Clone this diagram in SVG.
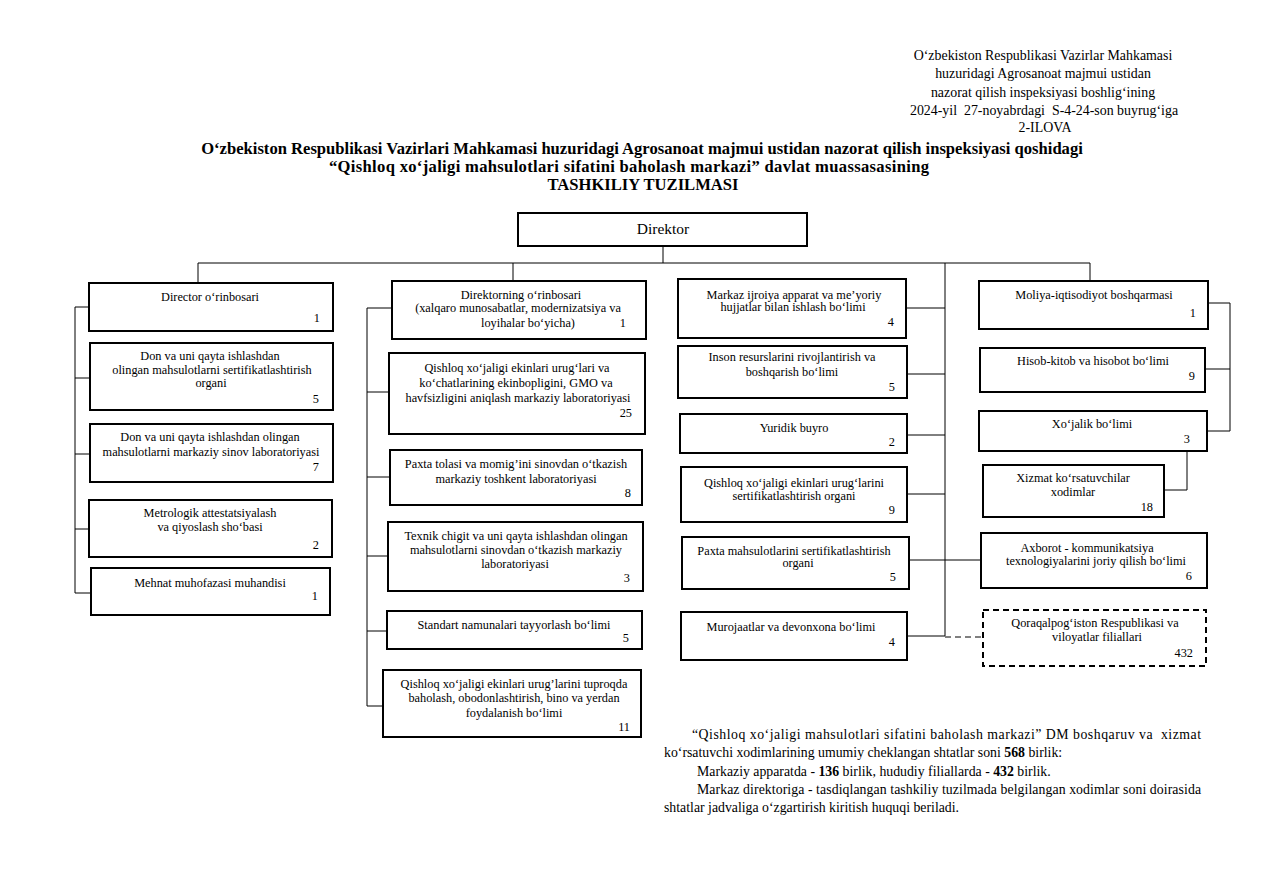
<svg xmlns="http://www.w3.org/2000/svg" width="1273" height="885" viewBox="0 0 1273 885">
<style>
text{font-family:"Liberation Serif","Times New Roman",serif;fill:#000}
.b rect{fill:#fff;stroke:#000;stroke-width:2}
.b text{font-size:12.3px}
#director text{font-size:15.5px}
.c{text-anchor:middle}
.n{text-anchor:end}
.hd{font-size:13.9px;text-anchor:middle}
.tt{font-size:16.6px;font-weight:bold;text-anchor:middle}
.ft{font-size:13.8px}
#conn line,#conn polyline{stroke:#000;stroke-width:1;fill:none}
.dash{stroke-dasharray:6 4}
</style>
<rect width="1273" height="885" fill="#fff"/>
<g id="header">
<text class="hd" x="1043" y="60">O‘zbekiston Respublikasi Vazirlar Mahkamasi</text>
<text class="hd" x="1043" y="78">huzuridagi Agrosanoat majmui ustidan</text>
<text class="hd" x="1043" y="97">nazorat qilish inspeksiyasi boshlig‘ining</text>
<text class="hd" x="1044" y="115" xml:space="preserve">2024-yil  27-noyabrdagi  S-4-24-son buyrug‘iga</text>
<text class="hd" x="1045" y="132">2-ILOVA</text>
</g>
<g id="title">
<text class="tt" x="642" y="154">O‘zbekiston Respublikasi Vazirlari Mahkamasi huzuridagi Agrosanoat majmui ustidan nazorat qilish inspeksiyasi qoshidagi</text>
<text class="tt" x="629" y="172" textLength="600" lengthAdjust="spacing">“Qishloq xo‘jaligi mahsulotlari sifatini baholash markazi” davlat muassasasining</text>
<text class="tt" x="643" y="190">TASHKILIY TUZILMASI</text>
</g>
<g id="conn">
<line x1="663" y1="246" x2="663" y2="263"/>
<line x1="198" y1="263" x2="1090" y2="263"/>
<line x1="198" y1="263" x2="198" y2="283"/>
<line x1="513" y1="263" x2="513" y2="281"/>
<line x1="945" y1="263" x2="945" y2="636"/>
<line x1="1090" y1="263" x2="1090" y2="281"/>
<line x1="75" y1="307" x2="75" y2="593"/>
<line x1="75" y1="307" x2="89" y2="307"/>
<line x1="75" y1="378" x2="90" y2="378"/>
<line x1="75" y1="454" x2="90" y2="454"/>
<line x1="75" y1="529" x2="90" y2="529"/>
<line x1="75" y1="593" x2="91" y2="593"/>
<line x1="367" y1="308" x2="367" y2="706"/>
<line x1="367" y1="308" x2="392" y2="308"/>
<line x1="367" y1="392" x2="389" y2="392"/>
<line x1="367" y1="477" x2="390" y2="477"/>
<line x1="367" y1="556" x2="388" y2="556"/>
<line x1="367" y1="631" x2="387" y2="631"/>
<line x1="367" y1="706" x2="383" y2="706"/>
<line x1="906" y1="308" x2="945" y2="308"/>
<line x1="907" y1="374" x2="945" y2="374"/>
<line x1="907" y1="435" x2="945" y2="435"/>
<line x1="907" y1="494" x2="945" y2="494"/>
<line x1="909" y1="560" x2="981" y2="560"/>
<line x1="907" y1="636" x2="945" y2="636"/>
<line class="dash" x1="945" y1="637" x2="983" y2="637"/>
<line x1="1230" y1="303" x2="1230" y2="431"/>
<line x1="1208" y1="303" x2="1230" y2="303"/>
<line x1="1205" y1="369" x2="1230" y2="369"/>
<line x1="1207" y1="431" x2="1230" y2="431"/>
<polyline points="1187,451 1187,490 1164,490"/>
</g>
<g id="director" class="b"><rect x="518" y="213" width="289" height="33"/><text class="c" x="663" y="234">Direktor</text></g>
<g id="c1n1" class="b"><rect x="89" y="283" width="244" height="48"/><text class="c" x="210" y="301">Director o‘rinbosari</text><text class="n" x="320" y="322">1</text></g>
<g id="c1n2" class="b"><rect x="90" y="343" width="243" height="67"/><text class="c" x="210" y="360">Don va uni qayta ishlashdan</text><text class="c" x="212" y="374">olingan mahsulotlarni sertifikatlashtirish</text><text class="c" x="211" y="387">organi</text><text class="n" x="319" y="403">5</text></g>
<g id="c1n3" class="b"><rect x="90" y="424" width="243" height="58"/><text class="c" x="210" y="441">Don va uni qayta ishlashdan olingan</text><text class="c" x="211" y="456">mahsulotlarni markaziy sinov laboratoriyasi</text><text class="n" x="319" y="471">7</text></g>
<g id="c1n4" class="b"><rect x="89" y="500" width="243" height="57"/><text class="c" x="210" y="517">Metrologik attestatsiyalash</text><text class="c" x="210" y="531">va qiyoslash sho‘basi</text><text class="n" x="319" y="549">2</text></g>
<g id="c1n5" class="b"><rect x="91" y="568" width="239" height="47"/><text class="c" x="210" y="587">Mehnat muhofazasi muhandisi</text><text class="n" x="318" y="600">1</text></g>
<g id="c2n1" class="b"><rect x="392" y="281" width="254" height="58"/><text class="c" x="521" y="299">Direktorning o‘rinbosari</text><text class="c" x="518" y="312">(xalqaro munosabatlar, modernizatsiya va</text><text class="c" x="528" y="327">loyihalar bo‘yicha)</text><text class="n" x="626" y="327">1</text></g>
<g id="c2n2" class="b"><rect x="389" y="353" width="256" height="81"/><text class="c" x="517" y="372">Qishloq xo‘jaligi ekinlari urug‘lari va</text><text class="c" x="516" y="387">ko‘chatlarining ekinbopligini, GMO va</text><text class="c" x="518" y="402">havfsizligini aniqlash markaziy laboratoriyasi</text><text class="n" x="632" y="417">25</text></g>
<g id="c2n3" class="b"><rect x="390" y="450" width="252" height="55"/><text class="c" x="516" y="468">Paxta tolasi va momig’ini sinovdan o‘tkazish</text><text class="c" x="516" y="483">markaziy toshkent laboratoriyasi</text><text class="n" x="631" y="497">8</text></g>
<g id="c2n4" class="b"><rect x="388" y="522" width="255" height="69"/><text class="c" x="516" y="540">Texnik chigit va uni qayta ishlashdan olingan</text><text class="c" x="516" y="554">mahsulotlarni sinovdan o‘tkazish markaziy</text><text class="c" x="515" y="568">laboratoriyasi</text><text class="n" x="630" y="582">3</text></g>
<g id="c2n5" class="b"><rect x="387" y="611" width="255" height="38"/><text class="c" x="514" y="629">Standart namunalari tayyorlash bo‘limi</text><text class="n" x="629" y="642">5</text></g>
<g id="c2n6" class="b"><rect x="383" y="670" width="258" height="67"/><text class="c" x="514" y="688">Qishloq xo‘jaligi ekinlari urug’larini tuproqda</text><text class="c" x="514" y="702">baholash, obodonlashtirish, bino va yerdan</text><text class="c" x="514" y="717">foydalanish bo‘limi</text><text class="n" x="630" y="731">11</text></g>
<g id="c3n1" class="b"><rect x="678" y="279" width="228" height="59"/><text class="c" x="794" y="299">Markaz ijroiya apparat va me’yoriy</text><text class="c" x="793" y="311">hujjatlar bilan ishlash bo‘limi</text><text class="n" x="894" y="326">4</text></g>
<g id="c3n2" class="b"><rect x="678" y="346" width="229" height="52"/><text class="c" x="792" y="361">Inson resurslarini rivojlantirish va</text><text class="c" x="792" y="376">boshqarish bo‘limi</text><text class="n" x="895" y="391">5</text></g>
<g id="c3n3" class="b"><rect x="680" y="414" width="227" height="39"/><text class="c" x="794" y="432">Yuridik buyro</text><text class="n" x="895" y="446">2</text></g>
<g id="c3n4" class="b"><rect x="681" y="467" width="226" height="55"/><text class="c" x="794" y="487">Qishloq xo‘jaligi ekinlari urug‘larini</text><text class="c" x="794" y="500">sertifikatlashtirish organi</text><text class="n" x="895" y="514">9</text></g>
<g id="c3n5" class="b"><rect x="682" y="537" width="227" height="52"/><text class="c" x="794" y="555">Paxta mahsulotlarini sertifikatlashtirish</text><text class="c" x="798" y="567">organi</text><text class="n" x="896" y="581">5</text></g>
<g id="c3n6" class="b"><rect x="681" y="612" width="226" height="48"/><text class="c" x="791" y="631">Murojaatlar va devonxona bo‘limi</text><text class="n" x="895" y="646">4</text></g>
<g id="c4n1" class="b"><rect x="979" y="281" width="229" height="48"/><text class="c" x="1094" y="299">Moliya-iqtisodiyot boshqarmasi</text><text class="n" x="1196" y="317">1</text></g>
<g id="c4n2" class="b"><rect x="980" y="348" width="225" height="44"/><text class="c" x="1093" y="365">Hisob-kitob va hisobot bo‘limi</text><text class="n" x="1195" y="380">9</text></g>
<g id="c4n3" class="b"><rect x="979" y="411" width="228" height="40"/><text class="c" x="1092" y="428">Xo‘jalik bo‘limi</text><text class="n" x="1190" y="443">3</text></g>
<g id="c4n4" class="b"><rect x="983" y="465" width="181" height="52"/><text class="c" x="1073" y="482">Xizmat ko‘rsatuvchilar</text><text class="c" x="1073" y="496">xodimlar</text><text class="n" x="1153" y="511">18</text></g>
<g id="c4n5" class="b"><rect x="981" y="533" width="226" height="55"/><text class="c" x="1087" y="552">Axborot - kommunikatsiya</text><text class="c" x="1096" y="565">texnologiyalarini joriy qilish bo‘limi</text><text class="n" x="1192" y="580">6</text></g>
<g id="c4n6" class="b"><rect class="dash" x="983" y="610" width="223" height="56"/><text class="c" x="1095" y="627">Qoraqalpog‘iston Respublikasi va</text><text class="c" x="1097" y="641">viloyatlar filiallari</text><text class="n" x="1193" y="657">432</text></g>
<g id="footer">
<text class="ft" x="692" y="739" textLength="509" lengthAdjust="spacing" xml:space="preserve">“Qishloq xo‘jaligi mahsulotlari sifatini baholash markazi” DM boshqaruv va  xizmat</text>
<text class="ft" x="664" y="757">ko‘rsatuvchi xodimlarining umumiy cheklangan shtatlar soni <tspan font-weight="bold">568</tspan> birlik:</text>
<text class="ft" x="697" y="776">Markaziy apparatda - <tspan font-weight="bold">136</tspan> birlik, hududiy filiallarda - <tspan font-weight="bold">432</tspan> birlik.</text>
<text class="ft" x="697" y="794" textLength="504" lengthAdjust="spacing">Markaz direktoriga - tasdiqlangan tashkiliy tuzilmada belgilangan xodimlar soni doirasida</text>
<text class="ft" x="664" y="812">shtatlar jadvaliga o‘zgartirish kiritish huquqi beriladi.</text>
</g>
</svg>
